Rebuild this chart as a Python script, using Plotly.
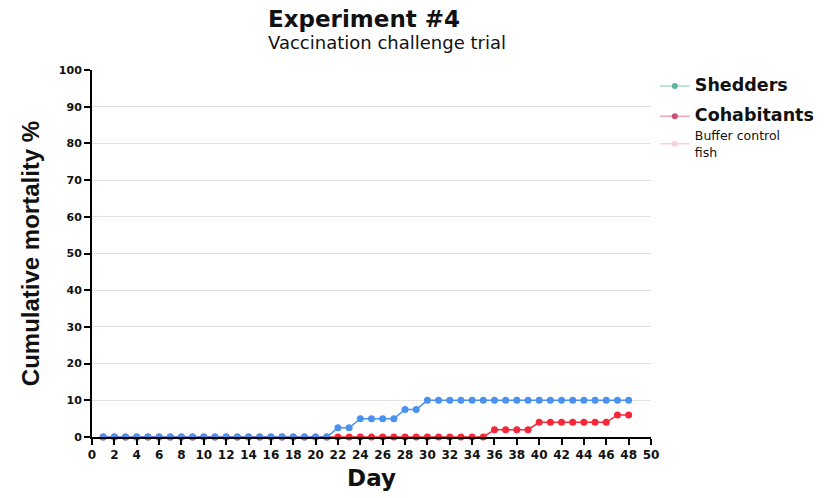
import plotly.graph_objects as go

days = list(range(1, 49))
shedders = [0]*21 + [2.5]*2 + [5]*4 + [7.5]*2 + [10]*19
cohabitants = [0]*35 + [2]*4 + [4]*7 + [6]*2
buffer_days = [1]
buffer_vals = [0]

x_ticks = list(range(0, 51, 2))
y_ticks = list(range(0, 101, 10))

series_names = ["Shedders", "Cohabitants", "Buffer control<br>fish"]

BLUE = "#4a92ee"
RED = "#f5283a"
LEG_TEAL = "#5cb39e"
LEG_PINK = "#c84f70"
LEG_PALE = "#f8d3dc"
SANS = "Liberation Sans, Arial, sans-serif"
WIDE = "DejaVu Sans, sans-serif"
INK = "#111"

BIG = "<span style='font-size:17.5px;font-weight:bold'>%s</span>"

fig = go.Figure()
# legend proxies (drawn first, hidden under the data markers)
fig.add_trace(go.Scatter(
    x=days[:1], y=shedders[:1], mode="lines+markers",
    name=BIG % series_names[0], legendgroup="a", legendrank=1,
    line=dict(color="#a8dccd", width=1.5), marker=dict(color=LEG_TEAL, size=6)))
fig.add_trace(go.Scatter(
    x=days[:1], y=cohabitants[:1], mode="lines+markers",
    name=BIG % series_names[1], legendgroup="b", legendrank=2,
    line=dict(color="#f2a6b8", width=1.5), marker=dict(color=LEG_PINK, size=6)))
fig.add_trace(go.Scatter(
    x=buffer_days, y=buffer_vals, mode="lines+markers",
    name=series_names[2],
    legendgroup="b", legendrank=3,
    line=dict(color=LEG_PALE, width=1.5), marker=dict(color=LEG_PALE, size=6)))
# data
fig.add_trace(go.Scatter(
    x=days, y=cohabitants, mode="lines+markers", showlegend=False,
    line=dict(color=RED, width=1.5), marker=dict(color=RED, size=7),
    cliponaxis=False))
fig.add_trace(go.Scatter(
    x=days, y=shedders, mode="lines+markers", showlegend=False,
    line=dict(color=BLUE, width=1.5), marker=dict(color=BLUE, size=7),
    cliponaxis=False))

fig.update_layout(
    width=831, height=498,
    margin=dict(l=92, r=179, t=70, b=61),
    paper_bgcolor="white", plot_bgcolor="white",
    font=dict(family=SANS, color=INK),
    showlegend=True,
    legend=dict(x=1.005, xanchor="left", y=0.996, yanchor="top",
                xref="paper", yref="paper", traceorder="grouped",
                font=dict(size=12.5, family=WIDE, color=INK),
                itemwidth=30, tracegroupgap=11, bgcolor="rgba(0,0,0,0)"),
    annotations=[
        dict(text="<b>Experiment #4</b>", x=(266-92)/560, y=1.0, xref="paper", yref="paper",
             xanchor="left", yanchor="middle", yshift=51, showarrow=False,
             font=dict(size=23, family=WIDE, color=INK)),
        dict(text="Vaccination challenge trial", x=(266-92)/560, y=1.0, xref="paper", yref="paper",
             xanchor="left", yanchor="middle", yshift=28, showarrow=False,
             font=dict(size=18, family=WIDE, color=INK)),
    ],
)

fig.update_xaxes(
    range=[0, 50], tickvals=x_ticks, ticktext=[str(v) for v in x_ticks],
    showgrid=False, zeroline=False,
    showline=True, linecolor="black", linewidth=2,
    ticks="outside", ticklen=6, tickwidth=2, tickcolor="black",
    tickfont=dict(size=12, family=WIDE, color=INK, weight="bold"),
    title=dict(text="<b>Day</b>", font=dict(size=23, family=WIDE, color=INK), standoff=8),
)
fig.update_yaxes(
    range=[0, 100], tickvals=y_ticks, ticktext=[str(v) for v in y_ticks],
    showgrid=True, gridcolor="#e2e2e2", gridwidth=1, zeroline=False,
    showline=True, linecolor="black", linewidth=2,
    ticks="outside", ticklen=6, tickwidth=2, tickcolor="black",
    tickfont=dict(size=11, family=WIDE, color=INK, weight="bold"),
    title=dict(text="<b>Cumulative mortality %</b>", font=dict(size=24, family=SANS, color=INK), standoff=12),
)

fig.write_html("out.html", config={"displayModeBar": False},
               post_script="document.body.style.margin='0';")
